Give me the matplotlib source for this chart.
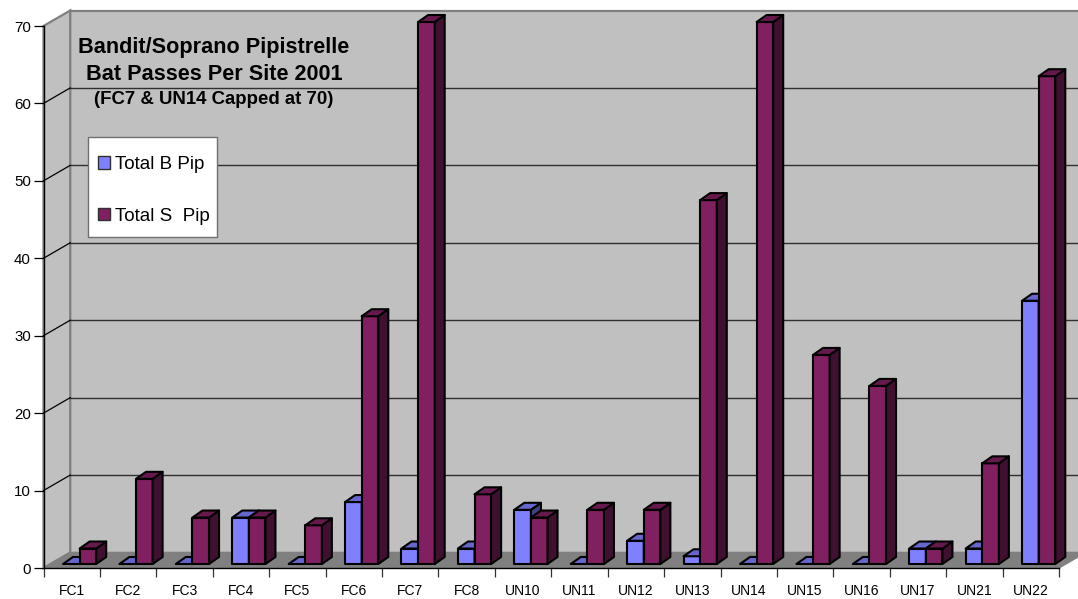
import matplotlib
matplotlib.use('Agg')
import matplotlib.pyplot as plt
from matplotlib.patches import Polygon, Patch, Rectangle

plt.rcParams['font.family'] = ['Liberation Sans', 'DejaVu Sans']

sites = ['FC1', 'FC2', 'FC3', 'FC4', 'FC5', 'FC6', 'FC7', 'FC8', 'UN10', 'UN11',
         'UN12', 'UN13', 'UN14', 'UN15', 'UN16', 'UN17', 'UN21', 'UN22']
total_b = [0, 0, 0, 6, 0, 8, 2, 2, 7, 0, 3, 1, 0, 0, 0, 2, 2, 34]
total_s = [2, 11, 6, 6, 5, 32, 70, 9, 6, 7, 7, 47, 70, 27, 23, 2, 13, 63]

W, H = 1078, 599
X0, X1 = 43.5, 1059.0   # front plane in pixels
Y0, Y70 = 568.0, 26.0
PX_X = (X1 - X0) / len(sites)
PX_Y = (Y0 - Y70) / 70

# depth of the box, in data units
DEPTH_X = 26.7 / PX_X
DEPTH_Y = 15.5 / PX_Y
# bars: where they stand and how deep they are
BAR_LEFT = 12.0 / PX_X
BAR_W = 16.6 / PX_X
BASE_X = 7.5 / PX_X
BASE_Y = 4.0 / PX_Y
BAR_DX = 10.0 / PX_X
BAR_DY = 7.0 / PX_Y

WALL = '#C0C0C0'
FLOOR = '#808080'
B_COLS = ('#8080FF', '#6666CC', '#404080')
S_COLS = ('#802060', '#66194D', '#401030')


def draw_bar(ax, x, value, cols, z):
    left = x + BASE_X + BAR_LEFT
    right = left + BAR_W
    bottom = BASE_Y
    top = BASE_Y + value
    kw = dict(edgecolor='black', linewidth=1.5, joinstyle='round', clip_on=False, zorder=z)
    if value > 0:
        ax.add_patch(Polygon([(left, bottom), (right, bottom), (right, top), (left, top)],
                             facecolor=cols[0], **kw))
        ax.add_patch(Polygon([(right, bottom), (right + BAR_DX, bottom + BAR_DY),
                              (right + BAR_DX, top + BAR_DY), (right, top)],
                             facecolor=cols[2], **kw))
    ax.add_patch(Polygon([(left, top), (right, top), (right + BAR_DX, top + BAR_DY),
                          (left + BAR_DX, top + BAR_DY)], facecolor=cols[1], **kw))


fig = plt.figure(figsize=(W / 100, H / 100), dpi=100)
ax = fig.add_axes([X0 / W, 1 - Y0 / H, (X1 - X0) / W, (Y0 - Y70) / H])
n = len(sites)
ax.set_xlim(0, n)
ax.set_ylim(0, 70)
ax.patch.set_visible(False)
for name in ('top', 'right'):
    ax.spines[name].set_visible(False)
for name in ('left', 'bottom'):
    ax.spines[name].set_color('black')
    ax.spines[name].set_linewidth(1.0)

# walls and floor
ax.add_patch(Polygon([(DEPTH_X, DEPTH_Y), (n + DEPTH_X, DEPTH_Y), (n + DEPTH_X, 70 + DEPTH_Y),
                      (DEPTH_X, 70 + DEPTH_Y)], facecolor=WALL, edgecolor=FLOOR, linewidth=1.6,
                     clip_on=False, zorder=0.5))
ax.add_patch(Polygon([(0, 0), (DEPTH_X, DEPTH_Y), (DEPTH_X, 70 + DEPTH_Y), (0, 70)],
                     facecolor=WALL, edgecolor=FLOOR, linewidth=1.6, clip_on=False, zorder=0.6))
ax.add_patch(Polygon([(0, 0), (n, 0), (n + DEPTH_X, DEPTH_Y), (DEPTH_X, DEPTH_Y)],
                     facecolor=FLOOR, edgecolor=FLOOR, linewidth=1.0, clip_on=False, zorder=0.7))

# gridlines on back wall and side wall
for v in range(10, 70, 10):
    ax.plot([DEPTH_X, n + DEPTH_X], [v + DEPTH_Y, v + DEPTH_Y], color='#303030', lw=1.0,
            clip_on=False, zorder=0.8)
    ax.plot([0, DEPTH_X], [v, v + DEPTH_Y], color='black', lw=0.9, clip_on=False, zorder=0.8)

# bars
for i in range(n):
    draw_bar(ax, i, total_b[i], B_COLS, 2 + i * 0.1)
    draw_bar(ax, i + BAR_W, total_s[i], S_COLS, 2.05 + i * 0.1)

ax.set_yticks(range(0, 71, 10))
ax.tick_params(axis='y', length=7.2, width=0.9, labelsize=10.8, pad=2)
ax.set_xticks(range(n + 1))
ax.set_xticklabels([])
ax.tick_params(axis='x', which='major', length=6.5, width=0.9, color='#333333')
ax.set_xticks([i + 0.5 for i in range(n)], minor=True)
ax.set_xticklabels(sites, minor=True, fontsize=10)
ax.tick_params(axis='x', which='minor', length=0, pad=11.5)

# title text
fig.text(214 / W, 1 - 48 / H, 'Bandit/Soprano Pipistrelle', fontsize=15.6, fontweight='bold',
         ha='center', va='center')
fig.text(214 / W, 1 - 74 / H, 'Bat Passes Per Site 2001', fontsize=15.6, fontweight='bold',
         ha='center', va='center')
fig.text(214 / W, 1 - 99 / H, '(FC7 & UN14 Capped at 70)', fontsize=13.4, fontweight='bold',
         ha='center', va='center')

# legend box is drawn apart because its padding is not even
fig.add_artist(Rectangle((88 / W, 1 - 237 / H), 129 / W, 100 / H, transform=fig.transFigure,
                         facecolor='white', edgecolor='#707070', linewidth=1.0, zorder=4))
handles = [Patch(facecolor=B_COLS[0], edgecolor='#303030', linewidth=1.0),
           Patch(facecolor=S_COLS[0], edgecolor='#303030', linewidth=1.0)]
leg = ax.legend(handles, ['Total B Pip', 'Total S  Pip'], loc='upper left',
                bbox_to_anchor=(98 / W, 1 - 156 / H), bbox_transform=fig.transFigure,
                fontsize=13.5, frameon=False, borderaxespad=0, borderpad=0, labelspacing=1.85,
                handlelength=0.65, handleheight=0.65, handletextpad=0.28)
leg.set_zorder(5)
fig.add_artist(leg)

fig.savefig('out.png', dpi=100, facecolor='white')
